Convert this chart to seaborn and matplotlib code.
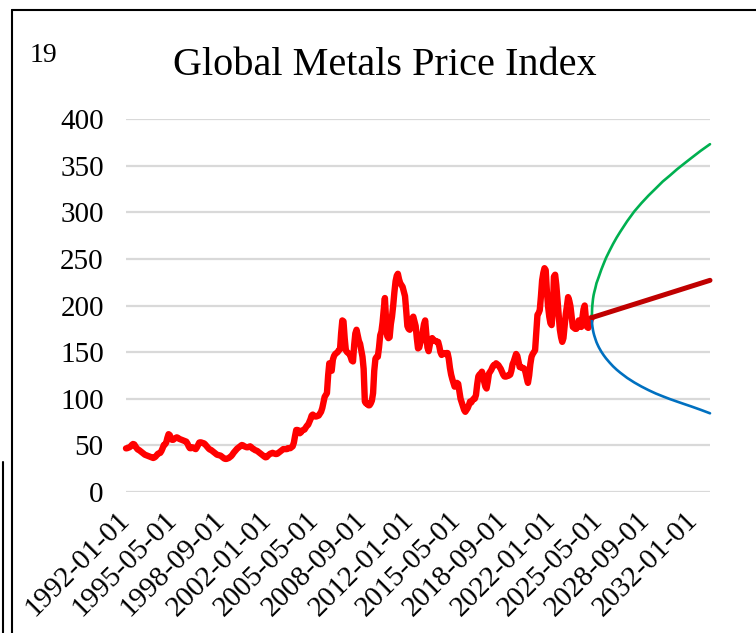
import matplotlib
matplotlib.use("Agg")
import matplotlib.pyplot as plt
from matplotlib.lines import Line2D
import pandas as pd
import seaborn as sns

# Monthly index values, Jan 1992 - Nov 2024 (one row per year)
history_start = "1992-01-01"
metals_index = [
    46.8, 47, 47.5, 48, 49, 50.5, 51.5, 51, 49, 47, 45.5, 45,          # 1992
    44, 43, 42, 41, 40, 39.5, 39, 38.5, 38, 37.5, 37, 36.5,            # 1993
    37, 38, 39.5, 41, 41.5, 42, 44, 47, 50.4, 51, 53, 58,              # 1994
    62, 61, 57, 56, 56, 57, 58, 58.6, 58, 57, 56.5, 56,                # 1995
    55.5, 55, 54.5, 54, 52, 49, 47, 47, 48, 47.5, 46.5, 46,            # 1996
    48, 50.5, 53, 53.3, 53, 52.5, 52.2, 51, 49.5, 48, 46.5, 45.5,      # 1997
    45, 44, 43, 42, 41, 40, 39.7, 39.5, 39, 38, 37, 36,                # 1998
    35.5, 35.5, 36, 36.5, 37.5, 38.5, 40, 42, 43.5, 45, 46.5, 47.5,    # 1999
    48.5, 49.5, 50.4, 50, 49, 48.5, 48, 48, 48.5, 49, 48, 46.5,        # 2000
    46, 45, 44.5, 44, 43, 42, 41, 40, 39, 38, 37.2, 37.5,              # 2001
    39, 40, 41, 41.5, 42, 41.5, 41, 40.7, 41, 42, 43, 44,              # 2002
    45, 46, 46, 46, 46, 47, 47, 47, 48, 49, 53, 60,                    # 2003
    66.5, 66.5, 66, 63, 64, 66, 66.5, 67, 69, 71, 72, 75,              # 2004
    78, 82, 83, 82, 81, 81, 81.5, 82, 84, 86, 90, 96,                  # 2005
    102, 104, 106, 125, 138, 132, 130, 142, 146, 148, 149, 150,        # 2006
    152, 153, 170, 184, 183, 165, 152, 150, 149, 148, 145, 141,        # 2007
    140, 158, 170, 174, 168, 162, 159, 152, 145, 132, 97, 95,          # 2008
    95, 93, 93, 95, 98, 106, 130, 143, 145, 145, 155, 168,             # 2009
    172, 182, 195, 208, 185, 167, 165, 166, 180, 188, 200, 214,        # 2010
    226, 232, 234, 228, 224, 222, 220, 215, 210, 195, 178, 175,        # 2011
    174, 178, 186, 188, 183, 178, 165, 154, 155, 160, 163, 172,        # 2012
    180, 184, 170, 155, 151, 158, 164, 165, 163, 162, 162, 161,        # 2013
    161, 156, 150, 147, 148, 149, 148, 149, 149, 143, 133, 126,        # 2014
    121, 117, 113, 115, 117, 116, 108, 100, 96, 92, 88, 86,            # 2015
    88, 90, 93, 97, 96, 98, 100, 100, 104, 115, 124, 126,              # 2016
    127, 129, 125, 118, 113, 111, 118, 127, 129, 131, 134, 136,        # 2017
    136, 138, 137, 136, 134, 132, 129, 126, 124, 123.7, 124, 125,      # 2018
    125, 126, 130, 137, 140, 144, 148, 146, 140, 134, 134, 133,        # 2019
    133, 132, 128, 122, 117, 125, 137, 145, 148, 150, 152, 170,        # 2020
    190, 192, 195, 210, 227, 235, 240, 238, 215, 199, 188, 181,        # 2021
    179, 195, 231, 233, 222, 206, 190, 174, 166, 161, 165, 178,        # 2022
    191, 200, 209, 205, 199, 188, 177, 176, 175, 175, 179, 184,        # 2023
    182, 177, 186, 196, 200, 186, 177, 176, 180, 185, 187,             # 2024
]

# Projection: central trend and upper / lower bands
trend_dates = ["2024-11-01", "2033-03-01"]
trend_values = [187, 227]

band_dates = ["2024-11-01", "2024-11-08", "2024-11-16", "2024-12-01",
              "2024-12-16", "2025-01-01", "2025-02-01", "2025-03-01",
              "2025-04-01", "2025-05-01", "2025-07-01", "2025-09-01",
              "2025-11-01", "2026-02-01", "2026-05-01", "2026-08-01",
              "2026-11-01", "2027-05-01", "2027-11-01", "2028-05-01",
              "2028-11-01", "2029-05-01", "2029-11-01", "2030-05-01",
              "2030-11-01", "2031-05-01", "2031-11-01", "2032-07-01",
              "2033-03-01"]
band_high = [187, 197, 201, 207, 211, 214, 219, 224, 227.5, 231, 238.3,
             244.8, 251, 258.8, 266, 272.8, 279, 290.5, 301, 309.8, 318,
             325.4, 333, 339.3, 346, 352, 358, 365.8, 373]
band_low = [187, 180, 177.3, 173.4, 170.5, 168, 164, 160.6, 157.7, 155.1,
            150.6, 146.7, 143.3, 138.8, 134.8, 131.2, 128, 122.3, 117.4,
            113.1, 109.2, 105.7, 102.6, 99.7, 97, 94.4, 91.8, 88.2, 84.4]

y_ticks = [0, 50, 100, 150, 200, 250, 300, 350, 400]
x_tick_labels = ["1992-01-01", "1995-05-01", "1998-09-01", "2002-01-01",
                 "2005-05-01", "2008-09-01", "2012-01-01", "2015-05-01",
                 "2018-09-01", "2022-01-01", "2025-05-01", "2028-09-01",
                 "2032-01-01"]

sns.set_style("white")
plt.rcParams["font.family"] = ["Liberation Serif", "DejaVu Serif"]
plt.rcParams["text.color"] = "black"

history = pd.DataFrame({
    "date": pd.date_range(history_start, periods=len(metals_index), freq="MS"),
    "value": metals_index,
})
trend = pd.DataFrame({"date": pd.to_datetime(trend_dates), "value": trend_values})
bands = pd.DataFrame({
    "date": pd.to_datetime(band_dates),
    "high": band_high,
    "low": band_low,
})

W, H = 756, 633
fig = plt.figure(figsize=(W / 100, H / 100), dpi=100)
ax = fig.add_axes([126 / W, 1 - 492 / H, 584 / W, 373 / H])

line_kw = dict(solid_joinstyle="round", solid_capstyle="round", clip_on=False)
sns.lineplot(data=history, x="date", y="value", ax=ax, color="#FF0000",
             linewidth=4.6, **line_kw)
sns.lineplot(data=bands, x="date", y="high", ax=ax, color="#00B050",
             linewidth=1.9, **line_kw)
sns.lineplot(data=bands, x="date", y="low", ax=ax, color="#0070C0",
             linewidth=1.9, **line_kw)
sns.lineplot(data=trend, x="date", y="value", ax=ax, color="#C00000",
             linewidth=3.6, **line_kw)

ax.set_xlim(pd.Timestamp("1992-01-01"), pd.Timestamp("2033-03-01"))
ax.set_ylim(0, 400)
ax.set_yticks(y_ticks)
ax.set_yticklabels([str(v) for v in y_ticks])
ax.set_xticks(pd.to_datetime(x_tick_labels))
ax.set_xticklabels(x_tick_labels, rotation=45, ha="right", va="center",
                   rotation_mode="anchor")
ax.set_xlabel("")
ax.set_ylabel("")
ax.yaxis.grid(True, color="#D9D9D9", linewidth=1.6)
ax.xaxis.grid(False)
ax.set_axisbelow(True)
for side in ax.spines.values():
    side.set_visible(False)
ax.tick_params(axis="y", length=0, pad=16, labelsize=21, labelcolor="black")
ax.tick_params(axis="x", length=0, pad=17, labelsize=21, labelcolor="black")

fig.text(385 / W, 1 - 75 / H, "Global Metals Price Index", ha="center",
         va="baseline", fontsize=29, color="black")
fig.text(30 / W, 1 - 62 / H, "19", ha="left", va="baseline", fontsize=20,
         color="black")

# Page frame lines
fig.add_artist(Line2D([12 / W, 1], [1 - 10 / H, 1 - 10 / H],
                      transform=fig.transFigure, color="black", linewidth=1.5))
fig.add_artist(Line2D([12 / W, 12 / W], [1 - 10 / H, 0],
                      transform=fig.transFigure, color="black", linewidth=1.5))
fig.add_artist(Line2D([3 / W, 3 / W], [1 - 462 / H, 0],
                      transform=fig.transFigure, color="black", linewidth=1.5))

fig.savefig("out.png", dpi=100, facecolor="white")
